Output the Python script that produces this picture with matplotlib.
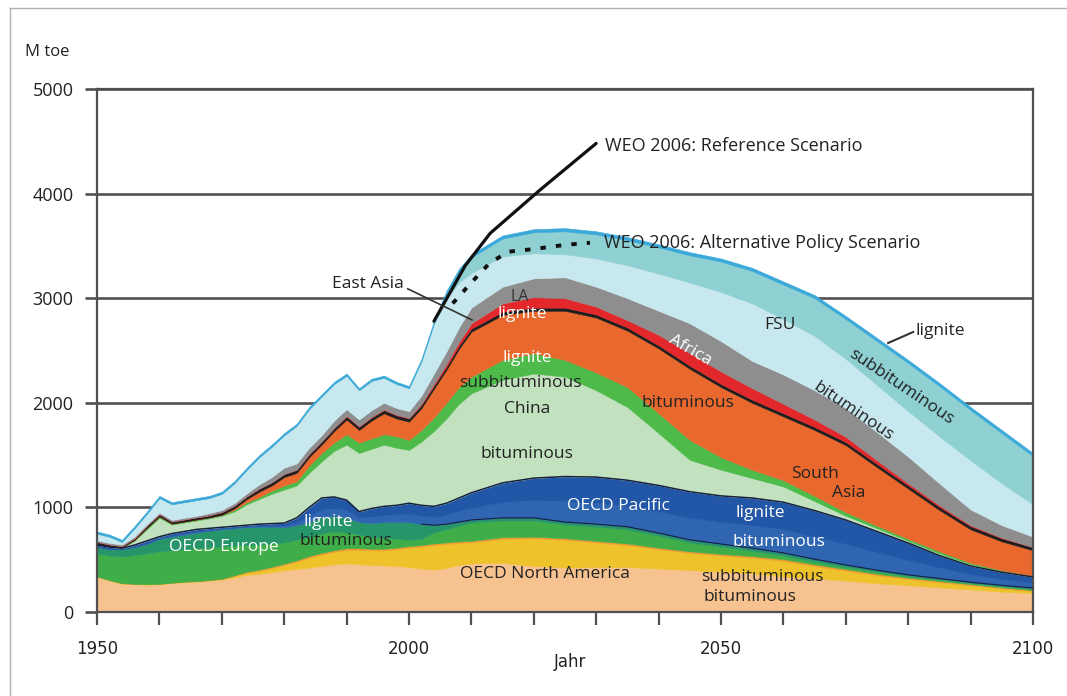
import numpy as np
import matplotlib
matplotlib.use("Agg")
import matplotlib.pyplot as plt
from matplotlib.lines import Line2D

plt.rcParams['font.family'] = ['Open Sans', 'DejaVu Sans']

# ---------------------------
# Dados (topo acumulado de cada camada, M toe)
# ---------------------------
years = [1950, 1952, 1954, 1956, 1958, 1960, 1962, 1964, 1966, 1968, 1970, 1972, 1974,
         1976, 1978, 1980, 1982, 1984, 1986, 1988, 1990, 1992, 1994, 1996, 1998, 2000,
         2002, 2004, 2006, 2008, 2010, 2015, 2020, 2025, 2030, 2035, 2040, 2045, 2050,
         2055, 2060, 2065, 2070, 2075, 2080, 2085, 2090, 2095, 2100]

na_bit = [335, 300, 270, 265, 260, 265, 275, 285, 290, 300, 310, 330, 355, 365, 380, 400,
          410, 425, 440, 455, 465, 455, 450, 445, 440, 430, 415, 405, 420, 450,
          465, 470, 440, 425, 430, 430, 415, 400, 385, 370, 340, 320, 300, 275, 255, 235, 215, 195, 180]
na_sub = [340, 305, 275, 270, 265, 270, 280, 290, 295, 305, 318, 345, 375, 395, 420, 450,
          480, 520, 550, 575, 595, 595, 590, 590, 600, 615, 625, 640, 650, 660,
          665, 700, 705, 690, 665, 640, 600, 565, 540, 520, 490, 440, 395, 350, 315, 285, 255, 225, 200]
na_lig = [340, 305, 275, 270, 265, 270, 280, 290, 295, 305, 318, 350, 385, 405, 432, 462,
          494, 535, 565, 590, 610, 610, 605, 605, 615, 630, 640, 655, 665, 675,
          680, 715, 720, 705, 680, 655, 615, 580, 555, 535, 505, 455, 410, 365, 328, 297, 266, 235, 210]
eu_bit = [560, 540, 530, 545, 560, 580, 590, 600, 610, 620, 625, 635, 640, 645, 655, 665,
          690, 720, 750, 770, 760, 740, 720, 710, 700, 690, 700, 760, 790, 825,
          855, 875, 875, 835, 815, 790, 730, 665, 625, 585, 540, 482, 430, 385, 343, 310, 278, 247, 220]
eu_lig = [620, 600, 600, 620, 650, 700, 720, 740, 760, 775, 790, 800, 810, 815, 815, 810,
          830, 860, 910, 920, 900, 860, 850, 860, 860, 860, 840, 830, 840, 860,
          880, 900, 900, 860, 840, 815, 755, 690, 650, 610, 565, 505, 450, 400, 355, 320, 285, 255, 230]
pac_bit = [625, 605, 603, 625, 660, 708, 732, 752, 772, 786, 800, 808, 818, 825, 828, 825,
           858, 920, 980, 995, 975, 905, 910, 925, 935, 940, 920, 910, 930, 965,
           1000, 1050, 1070, 1060, 1045, 1015, 960, 900, 860, 830, 790, 720, 650, 570, 495, 425, 360, 315, 280]
pac_lig = [640, 620, 610, 640, 680, 720, 750, 770, 790, 800, 810, 820, 830, 840, 845, 850,
           900, 1000, 1090, 1100, 1070, 960, 990, 1010, 1020, 1040, 1020, 1010, 1040, 1090,
           1140, 1235, 1280, 1295, 1290, 1260, 1210, 1150, 1110, 1090, 1050, 970, 880, 770, 660, 540, 440, 380, 335]
china_bit = [645, 625, 615, 680, 790, 900, 835, 855, 875, 895, 920, 960, 1030, 1080, 1130, 1170,
             1210, 1330, 1440, 1540, 1600, 1520, 1560, 1600, 1570, 1550, 1630, 1730, 1850, 1990,
             2090, 2220, 2280, 2250, 2120, 1960, 1710, 1455, 1360, 1280, 1200, 1060, 920, 800, 680, 560, 455, 390, 340]
china_sub = [650, 628, 618, 690, 805, 915, 845, 865, 885, 905, 930, 975, 1050, 1100, 1160, 1210,
             1250, 1400, 1520, 1620, 1700, 1620, 1660, 1700, 1680, 1645, 1740, 1860, 2000, 2150,
             2250, 2410, 2475, 2410, 2290, 2150, 1900, 1645, 1480, 1360, 1260, 1110, 955, 825, 700, 580, 470, 400, 345]
s_asia = [650, 628, 618, 690, 805, 915, 845, 865, 885, 905, 930, 990, 1080, 1150, 1210, 1290,
          1330, 1480, 1600, 1730, 1840, 1740, 1830, 1900, 1850, 1820, 1950, 2135, 2315, 2515,
          2680, 2840, 2880, 2880, 2815, 2690, 2520, 2325, 2150, 2000, 1870, 1740, 1595, 1385, 1180, 975, 790, 675, 590]
east_asia = [670, 645, 630, 705, 825, 935, 865, 885, 905, 925, 955, 1015, 1105, 1180, 1240, 1320,
             1360, 1510, 1630, 1760, 1870, 1770, 1860, 1930, 1880, 1850, 1980, 2165, 2345, 2545,
             2710, 2870, 2910, 2910, 2845, 2720, 2550, 2355, 2180, 2030, 1900, 1770, 1625, 1415, 1210, 1005, 820, 705, 620]
latin_am = [670, 645, 630, 705, 825, 935, 865, 885, 905, 925, 955, 1015, 1105, 1180, 1240, 1320,
            1360, 1510, 1630, 1760, 1875, 1775, 1865, 1935, 1885, 1855, 1990, 2180, 2370, 2580,
            2760, 2950, 3010, 3000, 2920, 2790, 2650, 2475, 2300, 2140, 1990, 1840, 1675, 1450, 1230, 1020, 830, 710, 620]
africa = [685, 660, 645, 720, 840, 950, 880, 900, 920, 945, 975, 1040, 1135, 1220, 1290, 1380,
          1420, 1570, 1690, 1830, 1940, 1840, 1930, 2000, 1950, 1920, 2070, 2280, 2490, 2720,
          2910, 3110, 3190, 3200, 3110, 3000, 2880, 2760, 2590, 2400, 2270, 2120, 1950, 1720, 1485, 1230, 980, 830, 720]
fsu_bit = [750, 720, 670, 800, 940, 1090, 1030, 1050, 1070, 1090, 1130, 1230, 1360, 1480, 1580, 1690,
           1780, 1940, 2060, 2180, 2260, 2120, 2210, 2240, 2180, 2140, 2400, 2760, 2990, 3150,
           3240, 3400, 3430, 3420, 3380, 3315, 3235, 3150, 3060, 2950, 2800, 2640, 2420, 2170, 1920, 1680, 1450, 1230, 1030]
fsu_sub = [750, 720, 670, 800, 940, 1090, 1030, 1050, 1070, 1090, 1130, 1230, 1360, 1480, 1580, 1690,
           1780, 1940, 2060, 2180, 2260, 2120, 2210, 2240, 2180, 2140, 2400, 2760, 3040, 3250,
           3390, 3570, 3630, 3640, 3610, 3555, 3485, 3410, 3350, 3260, 3130, 3000, 2800, 2590, 2380, 2160, 1930, 1710, 1490]
fsu_lig = [770, 740, 690, 820, 960, 1110, 1050, 1070, 1090, 1110, 1150, 1250, 1380, 1500, 1600, 1710,
           1800, 1960, 2080, 2200, 2280, 2140, 2230, 2260, 2200, 2160, 2420, 2780, 3070, 3280,
           3420, 3600, 3660, 3670, 3640, 3585, 3515, 3440, 3380, 3290, 3160, 3030, 2830, 2620, 2410, 2190, 1960, 1740, 1520]

# cenarios WEO 2006
ref_years = [2004, 2009, 2013, 2021, 2030]
ref_vals = [2780, 3310, 3620, 4035, 4480]
alt_years = [2007, 2010, 2013, 2016, 2020, 2025, 2029]
alt_vals = [2950, 3150, 3340, 3445, 3470, 3510, 3530]

camadas = [
    (na_bit, '#f6c28f'),
    (na_sub, '#eec22b'),
    (na_lig, '#f29a2e'),
    (eu_bit, '#3fae49'),
    (eu_lig, '#26966a'),
    (pac_bit, '#3065b2'),
    (pac_lig, '#2256a6'),
    (china_bit, '#c2e2bf'),
    (china_sub, '#4dba4a'),
    (s_asia, '#e9682d'),
    (east_asia, '#1e1e1e'),
    (latin_am, '#e3282b'),
    (africa, '#8e8e8e'),
    (fsu_bit, '#c8e8ef'),
    (fsu_sub, '#8fd0d3'),
    (fsu_lig, '#3aa9d9'),
]

# ---------------------------
# Figura
# ---------------------------
fig = plt.figure(figsize=(10.67, 6.96), dpi=100)
ax = fig.add_axes([0.0909, 0.1207, 0.8772, 0.7514])

base = np.zeros(len(years))
for topo, cor in camadas:
    topo = np.array(topo, dtype=float)
    ax.fill_between(years, base, topo, color=cor, lw=0.4, edgecolor=cor, zorder=2)
    base = topo

# contornos escuros
ax.plot(years, pac_lig, color='#15213f', lw=1.1, zorder=3)
ax.plot(years[26:], eu_lig[26:], color='#15213f', lw=0.8, zorder=3)

# linhas de cenario
ax.plot(ref_years, ref_vals, color='#111111', lw=2.3, zorder=4, solid_capstyle='round')
ax.plot(alt_years, alt_vals, color='#111111', lw=2.8, zorder=4, linestyle=(0, (1.4, 2.6)))

# ---------------------------
# Eixos
# ---------------------------
gc = '#505050'
ax.set_xlim(1950, 2100)
ax.set_ylim(0, 5000)
ax.set_yticks(range(0, 5001, 1000))
ax.set_xticks([1950, 2000, 2050, 2100])
ax.set_xticks(range(1950, 2101, 10), minor=True)
ax.grid(axis='y', color=gc, lw=1.9, zorder=1)
ax.set_axisbelow(True)
for s in ax.spines.values():
    s.set_color(gc)
    s.set_linewidth(1.6)
ax.tick_params(axis='x', which='both', length=9, width=1.6, color=gc, pad=11)
ax.tick_params(axis='y', length=9, width=1.9, color=gc, pad=8, labelsize=13)
for lbl in ax.get_xticklabels():
    lbl.set_family(['Liberation Sans Narrow', 'DejaVu Sans'])
    lbl.set_fontsize(12)
    lbl.set_color('#222222')
for lbl in ax.get_yticklabels():
    lbl.set_color('#222222')

fig.text(0.0234, 0.925, 'M toe', fontsize=12, color='#222222', va='center')
fig.text(0.534, 0.049, 'Jahr', fontsize=12, color='#222222', ha='center', va='center',
         family=['Liberation Sans Narrow', 'DejaVu Sans'])

# moldura externa
fig.add_artist(Line2D([0.0094, 1.0], [0.9885, 0.9885], transform=fig.transFigure, color='#b0b0b0', lw=1))
fig.add_artist(Line2D([0.0094, 0.0094], [0.0, 0.9885], transform=fig.transFigure, color='#b0b0b0', lw=1))

# ---------------------------
# Rotulos
# ---------------------------
escuro = '#222222'
branco = 'white'
rotulos = [
    ('OECD Europe', 1970.4, 621, branco, 0),
    ('lignite', 1987.0, 860, branco, 0),
    ('bituminous', 1989.9, 679, escuro, 0),
    ('OECD Pacific', 2033.5, 1013, branco, 0),
    ('OECD North America', 2021.8, 363, escuro, 0),
    ('lignite', 2056.3, 946, branco, 0),
    ('bituminous', 2059.3, 669, branco, 0),
    ('subbituminous', 2056.7, 335, escuro, 0),
    ('bituminous', 2054.6, 143, escuro, 0),
    ('bituminous', 2018.9, 1510, escuro, 0),
    ('China', 2018.9, 1941, escuro, 0),
    ('subbituminous', 2017.9, 2189, escuro, 0),
    ('lignite', 2018.9, 2428, branco, 0),
    ('bituminous', 2044.7, 1998, escuro, 0),
    ('Africa', 2045.0, 2505, branco, -30),
    ('FSU', 2059.5, 2744, escuro, 0),
    ('bituminous', 2071.2, 1912, escuro, -34),
    ('subbituminous', 2078.8, 2151, escuro, -34),
    ('South', 2065.1, 1319, escuro, 0),
    ('Asia', 2070.5, 1138, escuro, 0),
]
for txt, x, y, cor, rot in rotulos:
    ax.text(x, y, txt, color=cor, fontsize=12.5, ha='center', va='center',
            rotation=rot, rotation_mode='anchor', zorder=5)

# LA fica parcialmente atras do rotulo "lignite", como no original
ax.text(2017.8, 3015, 'LA', color='#333333', fontsize=11.5, ha='center', va='center', zorder=5)
ax.text(2018.1, 2850, 'lignite', color=branco, fontsize=12.5, ha='center', va='center', zorder=6)

ax.text(2081.1, 2686, 'lignite', color=escuro, fontsize=12.5, ha='left', va='center', zorder=5)
ax.plot([2080.8, 2076.8], [2677, 2572], color='#333333', lw=1.5, zorder=5)

ax.text(1999.2, 3136, 'East Asia', color=escuro, fontsize=12.5, ha='right', va='center', zorder=5)
ax.plot([1999.8, 2010.1], [3090, 2792], color='#333333', lw=1.2, zorder=5)

ax.text(2031.4, 4455, 'WEO 2006: Reference Scenario', color=escuro, fontsize=13,
        ha='left', va='center', zorder=5)
ax.text(2031.3, 3528, 'WEO 2006: Alternative Policy Scenario', color=escuro, fontsize=13,
        ha='left', va='center', zorder=5)

fig.savefig('out.png', dpi=100)
